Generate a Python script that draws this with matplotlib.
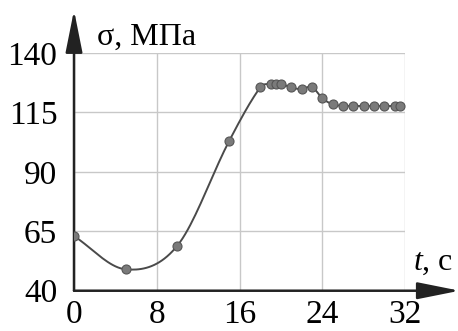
# -*- coding: utf-8 -*-

import numpy as np
import matplotlib
matplotlib.use('Agg')
import matplotlib.pyplot as plt

plt.rcParams['font.family'] = ['Liberation Serif', 'DejaVu Serif']
plt.rcParams['mathtext.fontset'] = 'custom'
plt.rcParams['mathtext.it'] = 'Liberation Serif:italic'
plt.rcParams['mathtext.rm'] = 'Liberation Serif'

# данные
t_points = [0, 5, 10, 15, 18, 19, 19.5, 20, 21, 22, 23, 24, 25, 26, 27, 28, 29, 30, 31, 31.5]
sigma_points = [63, 49, 59, 103, 125.5, 127, 127, 127, 125.5, 124.8, 125.7, 121,
                118.4, 117.8, 117.7, 117.7, 117.7, 117.7, 117.7, 117.7]
x_ticks = [0, 8, 16, 24, 32]
y_ticks = [40, 65, 90, 115, 140]


def smooth(x, y, n=20):
	# кубическая эрмитова кривая через точки (сглаженная линия)
	x = np.asarray(x, float)
	y = np.asarray(y, float)
	m = np.zeros_like(y)
	m[1:-1] = (y[2:] - y[:-2]) / (x[2:] - x[:-2])
	m[0] = (y[1] - y[0]) / (x[1] - x[0])
	m[-1] = (y[-1] - y[-2]) / (x[-1] - x[-2])
	xs, ys = [], []
	for i in range(len(x) - 1):
		h = x[i + 1] - x[i]
		s = np.linspace(0, 1, n, endpoint=False)
		h00 = 2 * s**3 - 3 * s**2 + 1
		h10 = s**3 - 2 * s**2 + s
		h01 = -2 * s**3 + 3 * s**2
		h11 = s**3 - s**2
		xs.append(x[i] + s * h)
		ys.append(h00 * y[i] + h10 * h * m[i] + h01 * y[i + 1] + h11 * h * m[i + 1])
	xs.append([x[-1]])
	ys.append([y[-1]])
	return np.concatenate(xs), np.concatenate(ys)


fig = plt.figure(figsize=(4.58, 3.31), dpi=100)
ax = fig.add_axes([0.1616, 0.1217, 0.7227, 0.7182])

xs, ys = smooth(t_points, sigma_points)
ax.plot(xs, ys, color='#4a4a4a', lw=1.4, zorder=3)
ax.plot(t_points, sigma_points, 'o', ms=6.5, mfc='#7a7a7a', mec='#555555', mew=0.8, zorder=4)

ax.set_xlim(0, 32)
ax.set_ylim(40, 140)
ax.set_xticks(x_ticks)
ax.set_yticks(y_ticks)
ax.tick_params(length=0, labelsize=24, colors='black')
ax.tick_params(axis='y', pad=12)
ax.tick_params(axis='x', pad=6)
ax.grid(True, color='#c8c8c8', lw=1)
for sp in ax.spines.values():
	sp.set_visible(False)

# оси со стрелками
ax.annotate('', xy=(1.165, 0), xytext=(0, 0), xycoords='axes fraction',
	arrowprops=dict(arrowstyle='-|>,head_length=1.3,head_width=0.26', mutation_scale=20,
		color='#222222', lw=1.8, shrinkA=0, shrinkB=0), annotation_clip=False)
ax.annotate('', xy=(0, 1.18), xytext=(0, 0), xycoords='axes fraction',
	arrowprops=dict(arrowstyle='-|>,head_length=1.3,head_width=0.26', mutation_scale=20,
		color='#222222', lw=1.8, shrinkA=0, shrinkB=0), annotation_clip=False)

ax.text(0.07, 1.034, 'σ, МПа', transform=ax.transAxes, fontsize=23, va='baseline', ha='left')
ax.text(1.025, 0.087, r'$t$, с', transform=ax.transAxes, fontsize=23, va='baseline', ha='left')

plt.savefig('out.png', dpi=100)
